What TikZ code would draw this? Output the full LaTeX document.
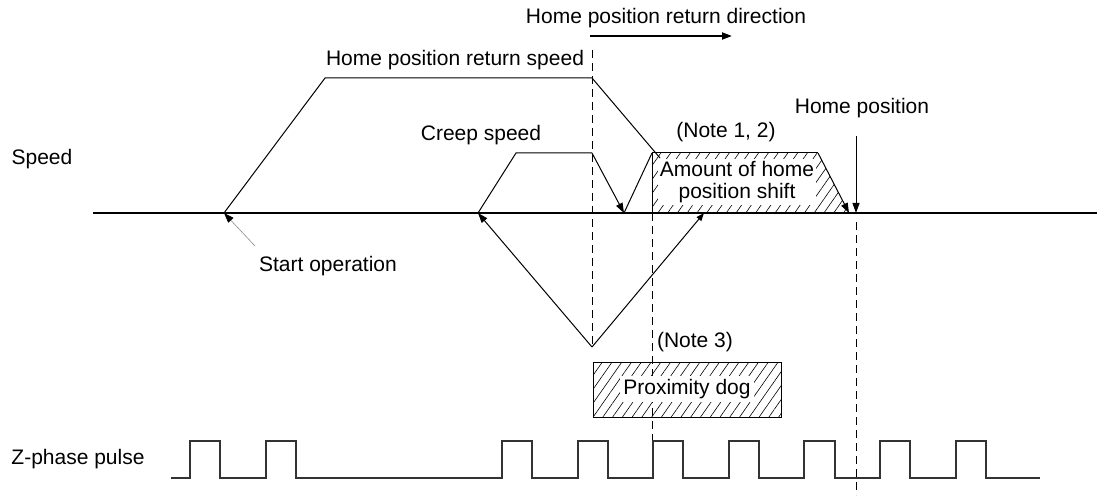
\documentclass[tikz,border=0pt]{standalone}
\usepackage{fontspec}
\setmainfont{Liberation Sans}
\usetikzlibrary{arrows.meta,patterns.meta}
\begin{document}
\begin{tikzpicture}[x=1pt,y=-1pt,
  lbl/.style={inner sep=0pt, font=\fontsize{21}{23.5}\selectfont},
  curve/.style={line width=1pt},
  dashline/.style={line width=1pt, dash pattern=on 8pt off 5pt},
  arr/.style={-{Triangle[length=10pt,width=7pt]}},
  smallarr/.style={-{Triangle[length=8pt,width=6pt]}},
  hatch/.style={pattern={Lines[angle=55,distance=8pt,line width=0.6pt]}},
  pulse/.style={line width=1.3pt, draw=black!80},
  ]
\useasboundingbox (0,0) rectangle (1097,497);
% coordinates
\coordinate (ax0) at (93,213);
\coordinate (ax1) at (1097,213);
\coordinate (s0) at (224,213);
\coordinate (h1) at (325,78);
\coordinate (h2) at (592,78);
\coordinate (h3) at (660,158);
\coordinate (c0) at (478,213);
\coordinate (c1) at (516,153);
\coordinate (c2) at (592,153);
\coordinate (c3) at (624,213);
\coordinate (a1) at (652,153);
\coordinate (a2) at (818,153);
\coordinate (a3) at (849,213);
\coordinate (a0) at (652,213);
\coordinate (vb) at (592,347);
\coordinate (vr) at (704,213);
\coordinate (st) at (255,246);
\coordinate (hp0) at (856,136);
\coordinate (hp1) at (856,213);
\coordinate (d1t) at (592,50);
\coordinate (d1b) at (592,345);
\coordinate (d2b) at (652,462);
\coordinate (d3t) at (856,222);
\coordinate (d3b) at (856,495);
\coordinate (dir0) at (590,36);
\coordinate (dir1) at (732,36);

% hatched areas
\fill[hatch] (a0) -- (a1) -- (a2) -- (a3) -- cycle;
\draw[hatch, line width=1pt] (593,362) rectangle (781,417);

% dashed lines
\draw[dashline] (d1t) -- (d1b);
\draw[dashline] (a0) -- (d2b);
\draw[dashline] (d3t) -- (d3b);

\node[lbl, fill=white, inner sep=2pt, align=center] (amt) at (737,182) {Amount of home\\[-1pt]position shift};
\node[lbl, fill=white, inner sep=3pt] (dog) at (687,389) {Proximity dog};

\draw[curve] (a3) -- (a0) -- (a1) -- (a2);
\draw[curve, arr] (a2) -- (a3);

% axis
\draw[line width=2pt] (ax0) -- (ax1);

% speed curves
\draw[curve] (s0) -- (h1) -- (h2) -- (h3);
\draw[curve] (c0) -- (c1) -- (c2);
\draw[curve, arr] (c2) -- (c3);
\draw[curve] (c3) -- (a1);
\draw[curve, arr] (vb) -- (c0);
\draw[curve, smallarr] (vb) -- (vr);
\draw[line width=0.6pt, draw=black!45, -{Triangle[length=10pt,width=7pt,color=black]}] (st) -- (s0);
\draw[curve, arr] (hp0) -- (hp1);
\draw[line width=2pt, -{Triangle[length=10pt,width=7pt]}] (dir0) -- (dir1);

% labels
\node[lbl] (dir) at (666,18) {Home position return direction};
\node[lbl] (hprs) at (455,60) {Home position return speed};
\node[lbl] (creep) at (481,135) {Creep speed};
\node[lbl] (n12) at (726,132) {(Note 1, 2)};
\node[lbl] (hp) at (862,108) {Home position};
\node[lbl] (speed) at (42,159) {Speed};
\node[lbl] (start) at (328,266) {Start operation};
\node[lbl] (n3) at (695,342) {(Note 3)};
\node[lbl] (zp) at (78,459) {Z-phase pulse};

% pulse train
\draw[pulse] (171,478) -- (190,478) -- (190,441) -- (220,441) -- (220,478)
  -- (266,478) -- (266,441) -- (296,441) -- (296,478)
  -- (502,478) -- (502,441) -- (532,441) -- (532,478)
  -- (578,478) -- (578,441) -- (608,441) -- (608,478)
  -- (653,478) -- (653,441) -- (683,441) -- (683,478)
  -- (729,478) -- (729,441) -- (759,441) -- (759,478)
  -- (804,478) -- (804,441) -- (835,441) -- (835,478)
  -- (880,478) -- (880,441) -- (910,441) -- (910,478)
  -- (956,478) -- (956,441) -- (986,441) -- (986,478) -- (1040,478);
\end{tikzpicture}
\end{document}
